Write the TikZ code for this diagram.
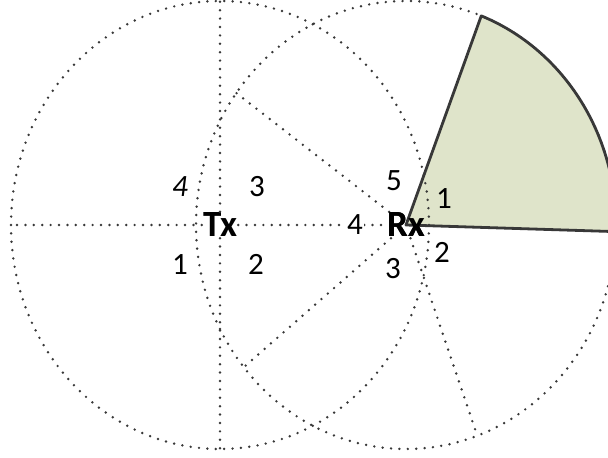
\documentclass[tikz,border=0pt]{standalone}
\usepackage{fontspec}
\setmainfont{Carlito}
\usetikzlibrary{positioning}
\definecolor{beamgreen}{HTML}{DFE4CA}
\definecolor{dotgray}{HTML}{383838}

\begin{document}
\begin{tikzpicture}[
  x=1pt, y=1pt,
  dotline/.style={dotgray, line width=2.7pt, line cap=round,
                  dash pattern=on 0pt off 8.4pt},
  station/.style={font=\fontsize{37}{37}\selectfont\bfseries, inner sep=1pt},
  num/.style={font=\fontsize{31}{31}\selectfont, inner sep=1pt},
  beam/.style={draw=dotgray, line width=2.8pt, line join=round},
]
\clip (0,0) rectangle (608,458);

\node[station] (tx) at (220,233) {Tx};
\node[station] (rx) at (406,233) {Rx};

\coordinate (ttop)  at (220,457);
\coordinate (tbot)  at (220,9);
\coordinate (tleft) at (11,233);
\coordinate (rul)   at (235,366);
\coordinate (rll)   at (244,91);
\coordinate (rdn)   at (476,26);

\fill[beamgreen] (rx.center) -- ++(-1.7:210pt and 224pt)
  arc[start angle=-1.7, end angle=69, x radius=210pt, y radius=224pt] -- cycle;

\draw[dotline] (tx.center) ellipse[x radius=209pt, y radius=224pt];
\draw[dotline] (rx.center) ellipse[x radius=210pt, y radius=224pt];

\foreach \e in {ttop,tbot,tleft,rx}{ \draw[dotline] (tx) -- (\e); }
\foreach \e in {rul,rll,rdn}{ \draw[dotline] (rx) -- (\e); }

\draw[beam] (rx.center) -- ++(-1.7:210pt and 224pt)
  arc[start angle=-1.7, end angle=69, x radius=210pt, y radius=224pt] -- cycle;

\node[station] at (rx) {Rx};

\node[num, font=\fontsize{31}{31}\selectfont\itshape] (tx4) at (180,271) {4};
\node[num] (tx3) at (257,271) {3};
\node[num] (tx1) at (180,193) {1};
\node[num] (tx2) at (256,194) {2};

\node[num] (rx5) at (394,277) {5};
\node[num] (rx1) at (444,259) {1};
\node[num, fill=white] (rx4) at (355,233) {4};
\node[num] (rx2) at (442,206) {2};
\node[num] (rx3) at (393,189) {3};

\end{tikzpicture}
\end{document}
